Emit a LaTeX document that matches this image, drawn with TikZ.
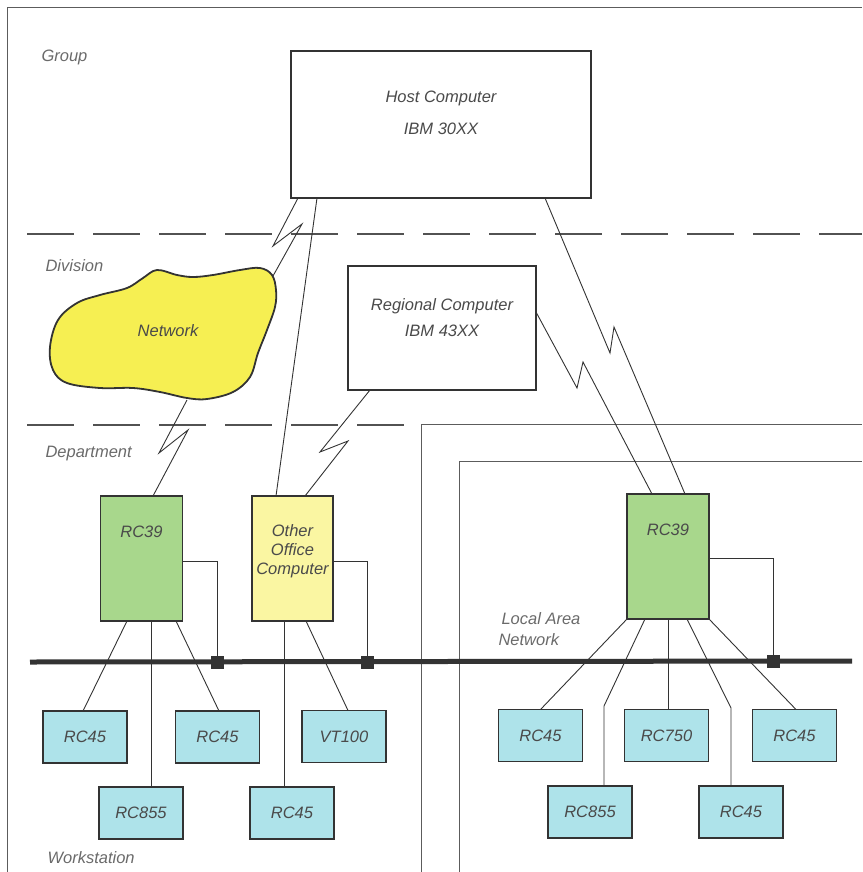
\documentclass[tikz,border=0pt]{standalone}
\usepackage{fontspec}
\setmainfont{Liberation Sans}
\usetikzlibrary{calc}
\definecolor{ink}{HTML}{333333}
\definecolor{txt}{HTML}{4A4A4A}
\definecolor{lvl}{HTML}{6A6A6A}
\definecolor{grn}{HTML}{A8D78C}
\definecolor{lyel}{HTML}{FAF6A2}
\definecolor{cloudy}{HTML}{F6EF52}
\definecolor{cyn}{HTML}{AEE3EA}
\tikzset{
  every node/.style={font=\fontsize{16.5}{19}\selectfont\itshape, text=txt},
  box/.style={draw=ink, line width=1.8pt, inner sep=0pt, outer sep=0pt},
  bigbox/.style={box, fill=white},
  rcbox/.style={box, fill=grn, minimum width=82pt, minimum height=125pt},
  ocbox/.style={box, fill=lyel, minimum width=81pt, minimum height=125pt},
  wsbox/.style={box, fill=cyn, minimum width=84pt, minimum height=52pt},
  lvllabel/.style={anchor=west, text=lvl},
  conn/.style={draw=ink, line width=0.9pt},
  frame/.style={draw=ink!80, line width=1pt},
  divider/.style={draw=ink!85, line width=1.3pt, dash pattern=on 47pt off 19pt},
  bus/.style={draw=ink, line width=5pt},
  tap/.style={fill=ink, minimum size=13pt, inner sep=0pt, outer sep=0pt},
}
\begin{document}
\begin{tikzpicture}[x=1pt,y=-1pt]
\useasboundingbox (0,0) rectangle (862,872);
% frames
\draw[frame] (7,872) -- (7,8) -- (862,8);
\draw[frame] (421,872) -- (421,424) -- (862,424);
\draw[frame] (459,872) -- (459,461) -- (862,461);
\draw[divider] (27,234) -- (862,234);
\draw[divider] (27,425) -- (421,425);
% level labels
\node[lvllabel] (lgroup) at (38,57) {Group};
\node[lvllabel] (ldiv) at (42,266) {Division};
\node[lvllabel] (ldep) at (42,454) {Department};
\node[lvllabel] (lws) at (44,858) {Workstation};
% cloud
\draw[draw=ink, line width=1.8pt, fill=cloudy] plot[smooth cycle, tension=0.6] coordinates {
 (50,347) (58,320) (77,303) (100,295) (127,288) (143,278) (157,270)
 (177,275) (193,277) (213,275) (240,270) (260,268)
 (272,275) (276,290) (275,307) (267,330) (258,353) (250,377)
 (233,392) (207,399) (187,398) (160,392) (133,388) (100,388) (67,383) (53,370)};
\node (net) at (168,331) {Network};
\coordinate (netNE) at (273,276);
\coordinate (netS) at (187,400);
% big boxes
\node[bigbox, minimum width=300pt, minimum height=147pt] (host) at (441,124.5) {};
\node (hostA) at (441,98) {Host Computer};
\node (hostB) at (441,129) {IBM 30XX};
\node[bigbox, minimum width=188pt, minimum height=124pt] (reg) at (442,328) {};
\node (regA) at (442,306) {Regional Computer};
\node (regB) at (442,331) {IBM 43XX};
% department boxes
\node[rcbox] (rcL) at (141.5,558.5) {};
\node (rcLt) at (141.5,532) {RC39};
\node[ocbox] (oc) at (292.5,558.5) {};
\node[align=center, font=\fontsize{16.5}{19}\selectfont\itshape] (oct) at (292.5,551) {Other\\Office\\Computer};
\node[rcbox] (rcR) at (668,556.5) {};
\node (rcRt) at (668,530) {RC39};
% bus
\coordinate (busL) at (30,662);
\coordinate (busR) at (852,661);
\draw[bus] (busL) -- (busR);
\node[tap] (sqL) at (217,662) {};
\node[tap] (sqO) at (367,662) {};
\node[tap] (sqR) at (773,661) {};
\node[anchor=west, text=lvl] (lan1) at (498,619) {Local Area};
\node[anchor=west, text=lvl] (lan2) at (495,640) {Network};
% workstations
\node[wsbox] (wa) at (85,737) {RC45};
\node[wsbox] (wb) at (217.5,737) {RC45};
\node[wsbox] (wvt) at (344,736.5) {VT100};
\node[wsbox] (wc) at (141,813) {RC855};
\node[wsbox] (wd) at (292,813) {RC45};
\node[wsbox] (re) at (540.5,735.5) {RC45};
\node[wsbox] (rf) at (666.5,735.5) {RC750};
\node[wsbox] (rg) at (794.5,735.5) {RC45};
\node[wsbox] (rh) at (590,812) {RC855};
\node[wsbox] (ri) at (741,812) {RC45};
% taps
\draw[conn] ([yshift=-2.5pt]rcL.east) -| (sqL.north);
\draw[conn] ([yshift=-2.5pt]oc.east) -| (sqO.north);
\draw[conn] ([yshift=-1.5pt]rcR.east) -| (sqR.north);
% department to workstations
\draw[conn] ([xshift=-14.5pt]rcL.south) -- ([xshift=-2pt]wa.north);
\draw[conn] ([xshift=9.5pt]rcL.south) -- ([xshift=10pt]wc.north);
\draw[conn] ([xshift=34.5pt]rcL.south) -- ([xshift=1.5pt]wb.north);
\draw[conn] ([xshift=-8.5pt]oc.south) -- ([xshift=-8pt]wd.north);
\draw[conn] ([xshift=13.5pt]oc.south) -- ([xshift=4pt]wvt.north);
\draw[conn] (rcR.south west) -- (re.north);
\draw[conn] ([xshift=-23pt]rcR.south) -- ([xshift=14pt,yshift=80pt]rh.north) -- ([xshift=14pt]rh.north);
\draw[conn] (rcR.south) -- ([xshift=1.5pt]rf.north);
\draw[conn] ([xshift=19pt]rcR.south) -- ([xshift=-10pt,yshift=78pt]ri.north) -- ([xshift=-10pt]ri.north);
\draw[conn] (rcR.south east) -- ([xshift=1.5pt]rg.north);
% upper links
\draw[conn] ([xshift=7pt]host.south west) -- (273,246) -- (302,224) -- (netNE);
\draw[conn] ([xshift=26pt]host.south west) -- ([xshift=-16.5pt]oc.north);
\draw[conn] ([xshift=254pt]host.south west) -- (610,353) -- (614,327) -- ([xshift=17pt]rcR.north);
\draw[conn] ([yshift=16pt]reg.east) -- (577,388) -- (583,362) -- ([xshift=-16pt]rcR.north);
\draw[conn] ([xshift=-72pt]reg.south) -- (320,452) -- (348,441) -- ([xshift=12.5pt]oc.north);
\draw[conn] (netS) -- (159,453) -- (188,430) -- ([xshift=11.5pt]rcL.north);
\end{tikzpicture}
\end{document}
